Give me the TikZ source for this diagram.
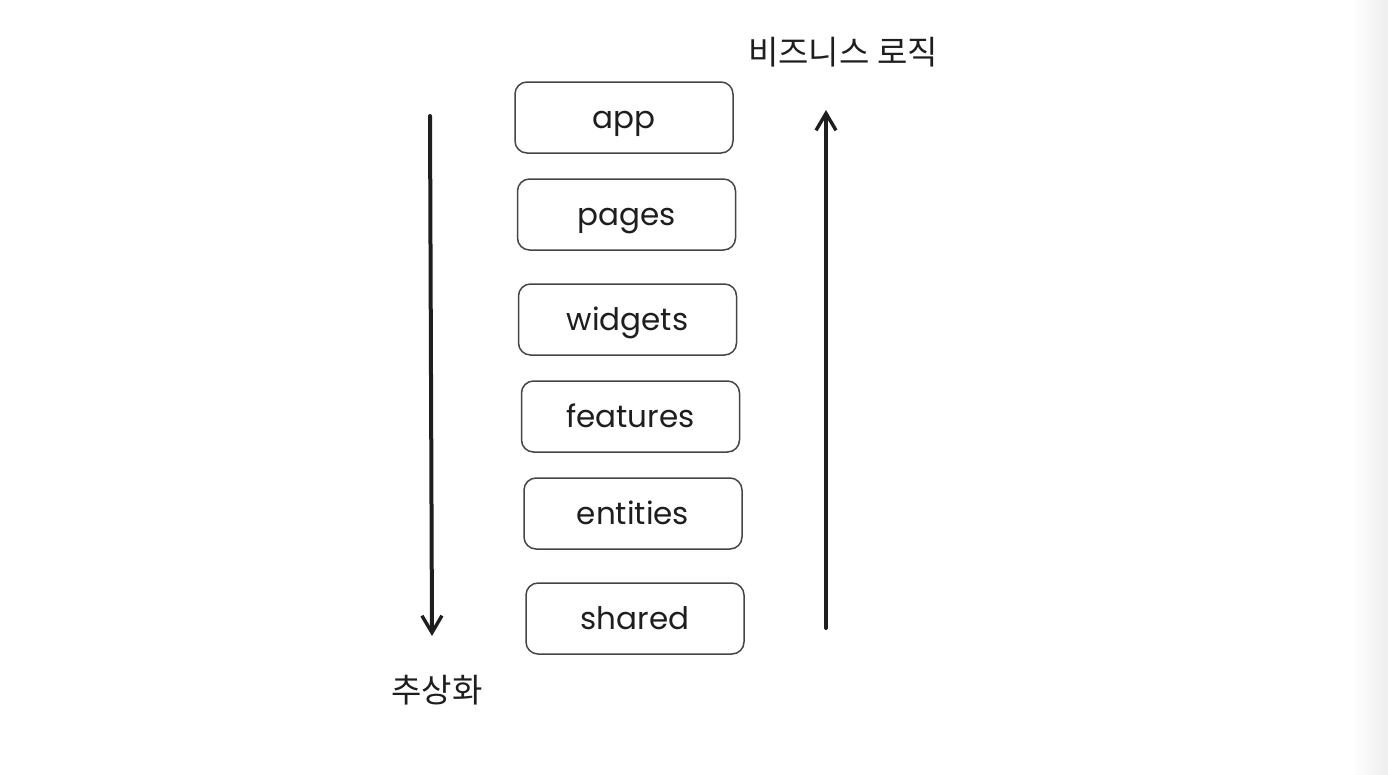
\documentclass[tikz,border=0pt]{standalone}
\usepackage{fontspec}
\setmainfont{Poppins}
\newfontfamily\korean{Noto Sans CJK KR}
\usetikzlibrary{positioning,arrows.meta}

\definecolor{ink}{HTML}{1E1E1E}
\definecolor{edge}{HTML}{454545}

\begin{document}
\begin{tikzpicture}[x=1pt, y=-1pt,
  layer/.style={draw=edge, line width=1.5pt, rounded corners=12pt, minimum width=218pt, minimum height=71pt, align=center, inner sep=0pt, text height=25pt, text depth=4pt, font=\fontsize{31}{34}\selectfont, text=ink},
  flow arrow/.style={-{Straight Barb[length=17pt,width=20pt,line width=3.4pt]}, line width=4pt, draw=ink, line cap=round},
  axis label/.style={font=\korean\fontsize{33}{36}\selectfont, text=ink, inner sep=0pt}
]
\path[use as bounding box] (0,0) rectangle (1388,774);
\shade[left color=white, right color=black!7, draw=none] (1352,0) rectangle (1388,774);

% layers, top to bottom
\node[layer] (app)      at (624,117.5) {app};
\node[layer] (pages)    at (626.5,214.5) {pages};
\node[layer] (widgets)  at (627.5,319.5) {widgets};
\node[layer] (features) at (630.5,416.5) {features};
\node[layer] (entities) at (633,513.5) {entities};
\node[layer] (shared)   at (635,618.5) {shared};

% abstraction, downwards
\coordinate (abs top) at (430,116);
\coordinate (abs end) at (432,636);
\draw[flow arrow] (abs top) -- (abs end);
\node[axis label] (abstraction) at (437,690) {추상화};

% business logic, upwards
\coordinate (biz bottom) at (826,628);
\coordinate (biz end) at (826,110);
\draw[flow arrow] (biz bottom) -- (biz end);
\node[axis label] (business) at (843,52) {비즈니스 로직};
\end{tikzpicture}
\end{document}
